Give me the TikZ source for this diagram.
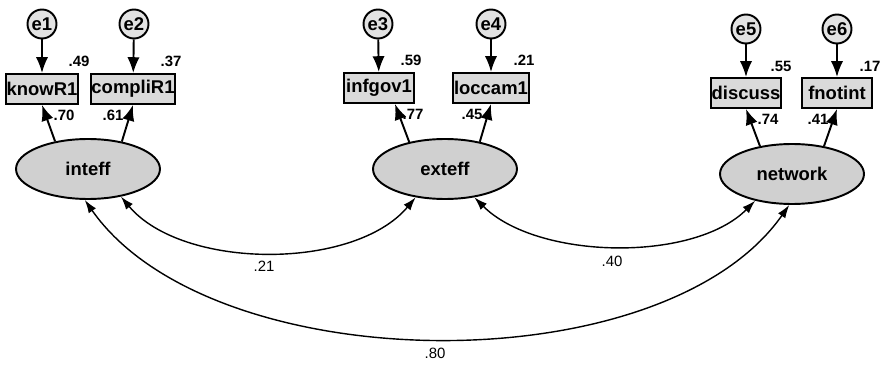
\documentclass[tikz,border=0pt]{standalone}
\usepackage{fontspec}
\setmainfont{Liberation Sans}
\usetikzlibrary{shapes.geometric}
\usetikzlibrary{arrows.meta}

\definecolor{boxgray}{RGB}{218,218,218}
\definecolor{latgray}{RGB}{208,208,208}
\definecolor{errgray}{RGB}{226,226,226}

\begin{document}
\begin{tikzpicture}
[x=0.02cm,y=-0.02cm,%
  errnode/.style={shape=circle,draw,line width=1.1pt,fill=errgray,minimum size=0.58cm,inner sep=0pt,font=\bfseries\fontsize{10.5}{12}\selectfont},%
  obsnode/.style={shape=rectangle,draw,line width=1.1pt,fill=boxgray,minimum width=1.4cm,minimum height=0.6cm,inner sep=0.5pt,font=\bfseries\fontsize{10.5}{12}\selectfont},%
  latnode/.style={shape=ellipse,draw,line width=1.1pt,fill=latgray,minimum width=2.88cm,minimum height=1.2cm,inner sep=0pt,font=\bfseries\fontsize{10.5}{12}\selectfont},%
  numlabel/.style={inner sep=0pt,font=\bfseries\fontsize{8.5}{10}\selectfont},%
  corlabel/.style={inner sep=0pt,font=\fontsize{8.5}{10}\selectfont},%
  path/.style={-{Latex[length=9pt,width=7pt]},line width=1.1pt},%
  covpath/.style={{Latex[length=7.5pt,width=5pt]}-{Latex[length=7.5pt,width=5pt]},line width=0.8pt}]
\useasboundingbox (0,0) rectangle (887,365);

% error terms
\node[errnode] (e1) at (42,24) {e1};
\node[errnode] (e2) at (134,24) {e2};
\node[errnode] (e3) at (378,24) {e3};
\node[errnode] (e4) at (491,24) {e4};
\node[errnode] (e5) at (746,29) {e5};
\node[errnode] (e6) at (837,29) {e6};

% observed variables
\node[obsnode] (knowR1) at (42,89) {knowR1};
\node[obsnode] (compliR1) at (133,89) {compliR1};
\node[obsnode] (infgov1) at (379,88) {infgov1};
\node[obsnode] (loccam1) at (491,88) {loccam1};
\node[obsnode] (discuss) at (746,93) {discuss};
\node[obsnode] (fnotint) at (837,93) {fnotint};

% latent variables
\node[latnode] (inteff) at (88,169) {inteff};
\node[latnode] (exteff) at (445,169) {exteff};
\node[latnode] (network) at (792,174) {network};

% error paths
\draw[path] (e1) -- (knowR1);
\draw[path] (e2) -- (compliR1);
\draw[path] (e3) -- (infgov1);
\draw[path] (e4) -- (loccam1);
\draw[path] (e5) -- (discuss);
\draw[path] (e6) -- (fnotint);

% loadings
\draw[path] (inteff.140) -- (knowR1.south);
\draw[path] (inteff.39) -- (compliR1.south);
\draw[path] (exteff.143) -- (infgov1.-45);
\draw[path] (exteff.38) -- (loccam1.south);
\draw[path] (network.139) -- (discuss.south);
\draw[path] (network.41) -- (fnotint.south);

% covariances
\draw[covpath] (inteff.-40) to[out=-50,in=-130,looseness=0.83] (exteff.-136);
\draw[covpath] (exteff.-44) to[out=-45,in=-135,looseness=0.8] (network.-144);
\draw[covpath] (inteff.-96) to[out=-55,in=-125,looseness=0.8] (network.-95);

% squared multiple correlations
\node[numlabel] (r1) at (79,61) {.49};
\node[numlabel] (r2) at (171,61) {.37};
\node[numlabel] (r3) at (411,60) {.59};
\node[numlabel] (r4) at (524,60) {.21};
\node[numlabel] (r5) at (781,66) {.55};
\node[numlabel] (r6) at (870,66) {.17};

% loading estimates
\node[numlabel] (l1) at (64,115) {.70};
\node[numlabel] (l2) at (113,115) {.61};
\node[numlabel] (l3) at (413,114) {.77};
\node[numlabel] (l4) at (472,114) {.45};
\node[numlabel] (l5) at (768,119) {.74};
\node[numlabel] (l6) at (818,119) {.41};

% correlation estimates
\node[corlabel] (c1) at (264,266) {.21};
\node[corlabel] (c2) at (612,261) {.40};
\node[corlabel] (c3) at (435,353) {.80};
\end{tikzpicture}
\end{document}
